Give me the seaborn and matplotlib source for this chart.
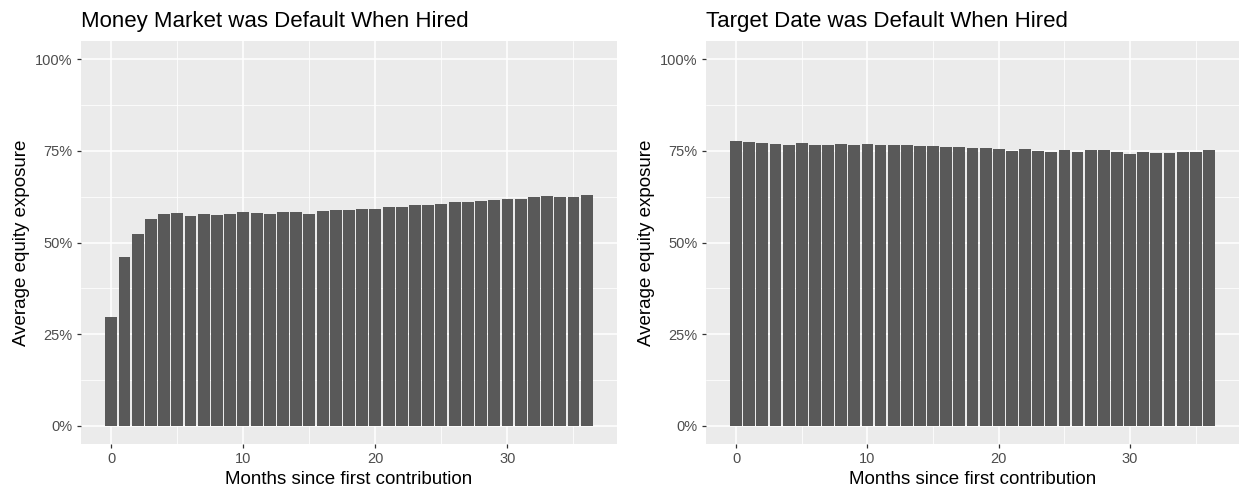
import numpy as np
import pandas as pd
import matplotlib
matplotlib.use("Agg")
import matplotlib.pyplot as plt
import seaborn as sns
from matplotlib.ticker import FuncFormatter, MultipleLocator

# Average equity exposure by month since first contribution
months = list(range(37))

money_market = [0.298, 0.461, 0.522, 0.563, 0.577, 0.581, 0.573, 0.577, 0.575, 0.579,
                0.584, 0.581, 0.579, 0.584, 0.584, 0.579, 0.586, 0.590, 0.589, 0.592,
                0.592, 0.597, 0.597, 0.602, 0.602, 0.605, 0.610, 0.611, 0.613, 0.616,
                0.618, 0.618, 0.624, 0.627, 0.624, 0.624, 0.630]

target_date = [0.777, 0.773, 0.771, 0.769, 0.767, 0.771, 0.767, 0.767, 0.769, 0.765,
               0.769, 0.766, 0.766, 0.766, 0.764, 0.763, 0.761, 0.761, 0.758, 0.758,
               0.756, 0.751, 0.755, 0.751, 0.747, 0.752, 0.747, 0.752, 0.752, 0.747,
               0.742, 0.747, 0.744, 0.744, 0.747, 0.747, 0.752]

titles = ["Money Market was Default When Hired", "Target Date was Default When Hired"]

sns.set_theme(style="white")
plt.rcParams["font.family"] = ["Liberation Sans", "DejaVu Sans"]

fig = plt.figure(figsize=(12.39, 4.91), dpi=100)
W, H = 1239, 491
ax1 = fig.add_axes([81 / W, 47 / H, 536 / W, 403 / H])
ax2 = fig.add_axes([706 / W, 47 / H, 533 / W, 403 / H])

for ax, vals, title in zip([ax1, ax2], [money_market, target_date], titles):
    df = pd.DataFrame({"month": months, "exposure": vals})
    ax.set_facecolor("#EBEBEB")
    ax.set_axisbelow(True)
    sns.barplot(data=df, x="month", y="exposure", native_scale=True, width=0.9,
                color="#595959", saturation=1, edgecolor="none", ax=ax)
    ax.set_xlim(-2.295, 38.295)
    ax.set_ylim(-0.05, 1.05)
    ax.xaxis.set_major_locator(MultipleLocator(10))
    ax.xaxis.set_minor_locator(MultipleLocator(5))
    ax.yaxis.set_major_locator(MultipleLocator(0.25))
    ax.yaxis.set_minor_locator(MultipleLocator(0.125))
    ax.yaxis.set_major_formatter(FuncFormatter(lambda v, p: f"{v * 100:.0f}%"))
    ax.grid(which="major", color="white", linewidth=1.1)
    ax.grid(which="minor", color="white", linewidth=0.55)
    for s in ax.spines.values():
        s.set_visible(False)
    ax.tick_params(which="major", length=3, width=0.9, color="#333333",
                   labelcolor="#4D4D4D", labelsize=10.5, pad=3, bottom=True, left=True)
    ax.tick_params(which="minor", length=0)
    ax.set_xlabel("Months since first contribution", fontsize=13.5, color="black", labelpad=3)
    ax.set_ylabel("Average equity exposure", fontsize=13.5, color="black", labelpad=4)
    ax.set_title(title, loc="left", fontsize=16, color="black", pad=10)

fig.savefig("out.png", dpi=100)
